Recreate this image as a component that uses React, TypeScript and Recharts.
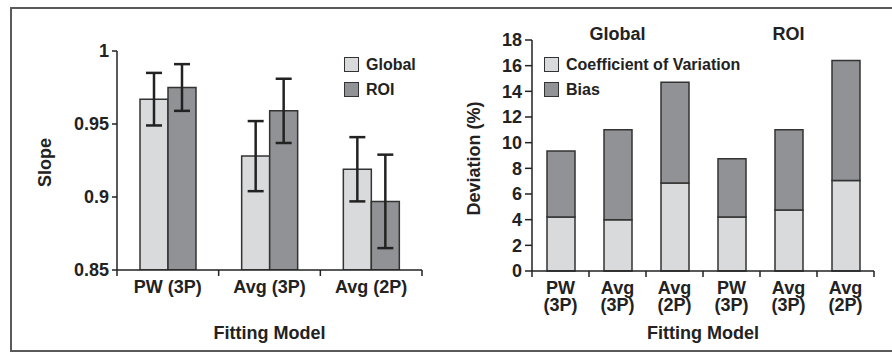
import React from 'react';
import { BarChart, Bar, XAxis, YAxis, ErrorBar, Legend, Label } from 'recharts';

// left panel: slope per fitting model
const slopeModels = ['PW (3P)', 'Avg (3P)', 'Avg (2P)'];
const globalSlope = [0.967, 0.928, 0.919];
const globalLow = [0.949, 0.904, 0.897];
const globalHigh = [0.985, 0.952, 0.941];
const roiSlope = [0.975, 0.959, 0.897];
const roiLow = [0.959, 0.937, 0.865];
const roiHigh = [0.991, 0.981, 0.929];
const slopeTicks = [0.85, 0.9, 0.95, 1];

// right panel: deviation, stacked
const devModels = ['PW (3P)', 'Avg (3P)', 'Avg (2P)', 'PW (3P)', 'Avg (3P)', 'Avg (2P)'];
const devGroups = ['Global', 'Global', 'Global', 'ROI', 'ROI', 'ROI'];
const cvValues = [4.2, 4.0, 6.85, 4.2, 4.75, 7.05];
const biasValues = [5.15, 7.0, 7.85, 4.55, 6.25, 9.35];
const devTicks = [0, 2, 4, 6, 8, 10, 12, 14, 16, 18];

const ink = '#222';
const light = '#d9dadc';
const dark = '#919295';
const font = '"Liberation Sans", Arial, sans-serif';

const slopeData = slopeModels.map((m, i) => ({
  model: m,
  global: globalSlope[i],
  globalErr: [globalSlope[i] - globalLow[i], globalHigh[i] - globalSlope[i]],
  roi: roiSlope[i],
  roiErr: [roiSlope[i] - roiLow[i], roiHigh[i] - roiSlope[i]],
}));

const devData = devModels.map((m, i) => ({ model: m, group: devGroups[i], cv: cvValues[i], bias: biasValues[i] }));

const tickStyle = { fill: ink, fontSize: 18, fontWeight: 700, fontFamily: font };

const BoundaryTick = (props: any) => {
  const { x, y, payload, index, twoLine } = props;
  const off = payload && payload.offset ? payload.offset : 28;
  const parts = twoLine ? String(payload.value).split(' ') : [String(payload.value)];
  return (
    <g>
      <line x1={x + off} x2={x + off} y1={y} y2={y + 6} stroke={ink} strokeWidth={1.5} />
      {index === 0 && <line x1={x - off} x2={x - off} y1={y} y2={y + 6} stroke={ink} strokeWidth={1.5} />}
      {parts.map((p, k) => (
        <text key={k} x={x} y={y + 10 + k * 17.5} dy="0.71em" textAnchor="middle" fill={ink} fontSize={18} fontWeight={700} fontFamily={font}>
          {p}
        </text>
      ))}
    </g>
  );
};

const makeLegend = (order: string[]) => (props: any) => {
  const items = [...(props.payload || [])].sort((a: any, b: any) => order.indexOf(a.value) - order.indexOf(b.value));
  return (
    <div>
      {items.map((e: any) => (
        <div key={e.value} style={{ display: 'flex', alignItems: 'center', height: 25 }}>
          <span style={{ display: 'inline-block', width: 13, height: 13, border: '1.5px solid #333', background: (e.payload && e.payload.fill) || e.color, marginRight: 7 }} />
          <span style={{ fontSize: 16, fontWeight: 700, color: ink, fontFamily: font }}>{e.value}</span>
        </div>
      ))}
    </div>
  );
};

const yTitle = (text: string, dx: number, dyc: number) => (props: any) => {
  const vb = props.viewBox || { x: 0, y: 0, width: 0, height: 0 };
  const cx = vb.x + dx;
  const cy = vb.y + vb.height / 2 + dyc;
  return (
    <text x={cx} y={cy} transform={`rotate(-90, ${cx}, ${cy})`} textAnchor="middle" fill={ink} fontSize={18} fontWeight={700} fontFamily={font}>
      {text}
    </text>
  );
};

export default function App() {
  return (
    <div style={{ position: 'absolute', left: 0, top: 0, width: 892, height: 352, background: '#fff', fontFamily: font }}>
      <div style={{ position: 'absolute', left: 10, top: 7, width: 882, height: 341, borderLeft: '2px solid #5a5a5a', borderTop: '2px solid #5a5a5a', borderBottom: '2px solid #5a5a5a' }} />

      <div style={{ position: 'absolute', left: 0, top: 0 }}>
        <BarChart width={446} height={352} data={slopeData} margin={{ top: 51, right: 24, bottom: 0, left: 0 }} barGap={0} barSize={28}>
          <XAxis dataKey="model" height={82} stroke={ink} strokeWidth={1.5} tickLine={false} tickSize={0} tickMargin={0} interval={0} tick={<BoundaryTick />}>
            <Label value="Fitting Model" position="insideBottom" offset={13} fill={ink} fontSize={18} fontWeight={700} fontFamily={font} />
          </XAxis>
          <YAxis width={117} domain={[0.85, 1]} ticks={slopeTicks} interval={0} allowDataOverflow stroke={ink} strokeWidth={1.5} tickSize={5} tickMargin={3} tick={tickStyle}>
            <Label content={yTitle('Slope', 51, 2)} />
          </YAxis>
          <Legend layout="vertical" align="center" verticalAlign="middle" wrapperStyle={{ left: 344, top: 52, width: 'auto' }} content={makeLegend(['Global', 'ROI'])} />
          <Bar dataKey="global" name="Global" fill={light} stroke="#333" strokeWidth={1.5} isAnimationActive={false}>
            <ErrorBar dataKey="globalErr" width={8} stroke={ink} strokeWidth={2.5} isAnimationActive={false} />
          </Bar>
          <Bar dataKey="roi" name="ROI" fill={dark} stroke="#333" strokeWidth={1.5} isAnimationActive={false}>
            <ErrorBar dataKey="roiErr" width={8} stroke={ink} strokeWidth={2.5} isAnimationActive={false} />
          </Bar>
        </BarChart>
      </div>

      <div style={{ position: 'absolute', left: 446, top: 0 }}>
        <BarChart width={446} height={352} data={devData} margin={{ top: 20, right: 18, bottom: 0, left: 0 }} barSize={28}>
          <XAxis dataKey="model" height={81} stroke={ink} strokeWidth={1.5} tickLine={false} tickSize={0} tickMargin={0} interval={0} allowDuplicatedCategory tick={<BoundaryTick twoLine />}>
            <Label value="Fitting Model" position="insideBottom" offset={13} fill={ink} fontSize={18} fontWeight={700} fontFamily={font} />
          </XAxis>
          <XAxis xAxisId="grp" dataKey="group" orientation="top" allowDuplicatedCategory={false} interval={0} height={20} axisLine={false} tickLine={false} tickSize={0} tickMargin={0} tick={tickStyle} />
          <YAxis width={86} domain={[0, 18]} ticks={devTicks} interval={0} stroke={ink} strokeWidth={1.5} tickSize={7} tickMargin={3} tick={tickStyle}>
            <Label content={yTitle('Deviation (%)', 33.5, 3)} />
          </YAxis>
          <Legend layout="vertical" align="center" verticalAlign="middle" wrapperStyle={{ left: 98, top: 52, width: 'auto' }} content={makeLegend(['Coefficient of Variation', 'Bias'])} />
          <Bar dataKey="cv" name="Coefficient of Variation" stackId="d" fill={light} stroke="#333" strokeWidth={1.5} isAnimationActive={false} />
          <Bar dataKey="bias" name="Bias" stackId="d" fill={dark} stroke="#333" strokeWidth={1.5} isAnimationActive={false} />
        </BarChart>
      </div>
    </div>
  );
}
